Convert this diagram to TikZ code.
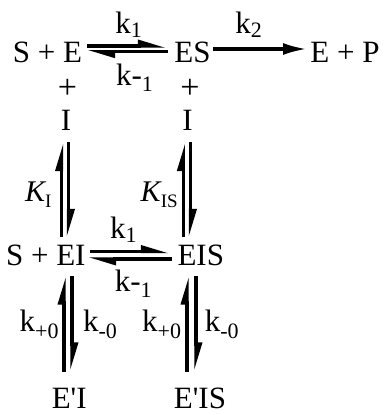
\documentclass[tikz,border=0pt]{standalone}
\usepackage{fontspec}
\setmainfont{Liberation Serif}
\usetikzlibrary{arrows.meta,calc}

% subscript set smaller and lowered below the baseline
\newcommand\lowsub[2][5pt]{\raisebox{-#1}{\fontsize{22}{23}\selectfont #2}}
% equilibrium constant: italic K with a small upright subscript
\newcommand\eqK[1]{{\fontsize{30}{31}\selectfont\itshape K}\raisebox{-6pt}{\fontsize{19}{20}\selectfont #1}}
% straight prime used in the isomerised complexes
\newcommand\isom{\textquotesingle}

\tikzset{
  species/.style={inner sep=0pt, anchor=base, font=\fontsize{31}{34}\selectfont},
  rate/.style={inner sep=0pt, anchor=base, font=\fontsize{31}{34}\selectfont},
  addsign/.style={inner sep=0pt, anchor=base, font=\fontsize{34}{36}\selectfont},
  harpoon/.style={line width=3.3pt, -{Triangle[left,length=22pt,width=12pt]}},
  forward/.style={line width=3.3pt, -{Latex[length=24pt,width=12pt]}}
}

\begin{document}
\begin{tikzpicture}[x=1pt,y=-1pt]
\useasboundingbox (0,0) rectangle (389,415);

% --- top row: binding of substrate and turnover
\node[species] (SE) at (47.5,62) {S + E};
\node[species] (ES) at (192.5,62) {ES};
\node[species] (EP) at (345,62) {E + P};
\node[rate] (k1a) at (128.5,33) {k\lowsub[4pt]{1}};
\node[rate] (km1a) at (134.5,85) {k-\lowsub[6pt]{1}};
\node[rate] (k2) at (248.5,33) {k\lowsub[4pt]{2}};

% --- inhibitor added to free enzyme and to the complex
\node[addsign] (p1) at (67.5,98) {+};
\node[addsign] (p2) at (190,98) {+};
\node[species] (I1) at (66,130) {I};
\node[species] (I2) at (187.5,130) {I};

% --- inhibitor complexes
\node[rate] (KI) at (38.3,201.7) {\eqK{I}};
\node[rate] (KIS) at (159.2,201.7) {\eqK{IS}};
\node[species] (SEI) at (45.8,265) {S + EI};
\node[species] (EIS) at (200.8,265) {EIS};
\node[rate] (k1b) at (123.3,238.3) {k\lowsub[4pt]{1}};
\node[rate] (km1b) at (133.3,291.7) {k-\lowsub[6pt]{1}};

% --- slow isomerisation of the complexes
\node[rate] (kp0L) at (39.2,331.7) {k\lowsub[7pt]{+0}};
\node[rate] (km0L) at (100,331.7) {k\lowsub[7pt]{-0}};
\node[rate] (kp0R) at (161.7,331.7) {k\lowsub[7pt]{+0}};
\node[rate] (km0R) at (221.7,331.7) {k\lowsub[7pt]{-0}};
\node[species] (EpI) at (69.2,408) {E\isom I};
\node[species] (EpIS) at (200,408) {E\isom IS};

% S + E <=> ES -> E + P
\draw[harpoon] ($(SE.base)+(39.5,-16)$) -- ($(ES.base)+(-26.5,-16)$);
\draw[harpoon] ($(ES.base)+(-24.5,-10.3)$) -- ($(SE.base)+(39.5,-10.3)$);
\draw[forward] ($(ES.base)+(20.5,-13)$) -- ($(EP.base)+(-38,-13)$);

% S + EI <=> EIS
\draw[harpoon] ($(SEI.base)+(44.2,-13.5)$) -- ($(EIS.base)+(-31.8,-13.5)$);
\draw[harpoon] ($(EIS.base)+(-28.8,-6)$) -- ($(SEI.base)+(42.2,-6)$);

% E + I <=> EI and ES + I <=> EIS
\draw[harpoon] ($(I1.base |- SEI.base)+(-4.5,-28)$) -- ($(I1.base)+(-4.5,13)$);
\draw[harpoon] ($(I1.base)+(2.5,12)$) -- ($(I1.base |- SEI.base)+(2.5,-28)$);
\draw[harpoon] ($(I2.base |- EIS.base)+(-4.2,-28)$) -- ($(I2.base)+(-4.2,13)$);
\draw[harpoon] ($(I2.base)+(3,12)$) -- ($(I2.base |- EIS.base)+(3,-28)$);

% EI <=> E'I and EIS <=> E'IS
\draw[harpoon] ($(EpI.base)+(-5.2,-36.5)$) -- ($(EpI.base |- SEI.base)+(-5.2,11.5)$);
\draw[harpoon] ($(EpI.base |- SEI.base)+(2.8,11)$) -- ($(EpI.base)+(2.8,-37.5)$);
\draw[harpoon] ($(EpIS.base)+(-13,-36.5)$) -- ($(EpIS.base |- EIS.base)+(-13,11.5)$);
\draw[harpoon] ($(EpIS.base |- EIS.base)+(-4,11)$) -- ($(EpIS.base)+(-4,-37.5)$);
\end{tikzpicture}
\end{document}
